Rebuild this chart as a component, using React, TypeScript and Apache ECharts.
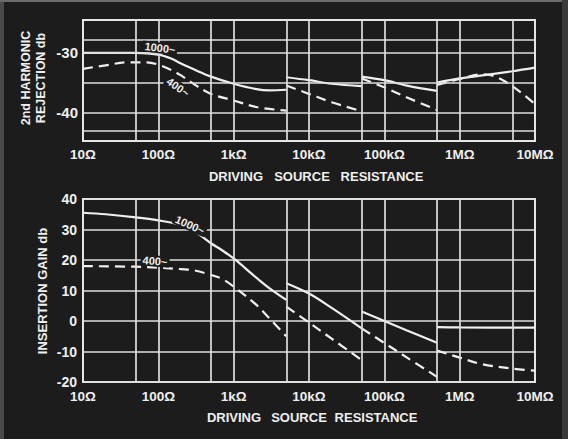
import React, { useEffect, useRef } from "react";
import * as echarts from "echarts";

// ---- tick labels / grid positions ----
const xTickLabels = ["10Ω", "100Ω", "1kΩ", "10kΩ", "100kΩ", "1MΩ", "10MΩ"];
const xGridLines = [50, 100, 500, 1000, 5000, 1e4, 5e4, 1e5, 5e5, 1e6, 5e6];
const topGridY = [-27.8, -30, -35, -40, -43];
const topYTicks = [-30, -40];

// ---- 2nd harmonic rejection (db) ----
const topSolid1 = [[10, -30.0], [20, -30.0], [50, -30.0], [100, -30.3], [150, -31.0], [200, -31.8], [300, -32.8], [500, -34.0], [1000, -35.2], [2000, -36.1], [3000, -36.3], [5000, -36.2]];
const topSolid2 = [[5000, -34.1], [10000, -34.6], [20000, -35.2], [50000, -35.6]];
const topSolid3 = [[50000, -34.0], [100000, -34.6], [200000, -35.5], [500000, -36.4]];
const topSolid4 = [[500000, -35.0], [1e6, -34.3], [2e6, -33.8], [5e6, -33.1], [1e7, -32.5]];

const topDash1 = [[10, -32.7], [20, -32.1], [40, -31.6], [70, -31.6], [100, -32.0], [150, -32.9], [200, -33.8], [300, -35.3], [500, -36.9], [1000, -38.0], [2000, -39.1], [5000, -39.7]];
const topDash2 = [[5000, -35.5], [10000, -36.9], [20000, -38.3], [50000, -39.8]];
const topDash3 = [[50000, -34.3], [100000, -35.8], [200000, -37.5], [500000, -39.6]];
const topDash4 = [[500000, -35.4], [1e6, -34.4], [2e6, -33.6], [3e6, -34.0], [5e6, -35.6], [1e7, -38.6]];

// ---- insertion gain (db) ----
const botSolid1 = [[10, 35.5], [20, 35.0], [50, 34.0], [100, 33.0], [200, 31.5], [300, 29.5], [500, 25.5], [700, 23.2], [1000, 20.5], [2000, 14.2], [3000, 10.7], [5000, 6.9]];
const botSolid2 = [[5000, 12.4], [10000, 9.0], [20000, 4.3], [50000, -2.4]];
const botSolid3 = [[50000, 3.1], [100000, 0.0], [200000, -3.1], [500000, -7.1]];
const botSolid4 = [[500000, -2.0], [1e6, -2.1], [1e7, -2.2]];

const botDash1 = [[10, 18.0], [50, 17.8], [100, 17.5], [200, 17.0], [300, 16.6], [500, 15.1], [700, 13.8], [1000, 11.3], [2000, 5.3], [3000, 0.8], [5000, -5.0]];
const botDash2 = [[5000, 4.7], [10000, -0.5], [20000, -5.8], [50000, -12.8]];
const botDash3 = [[50000, -2.4], [100000, -7.2], [200000, -12.0], [500000, -18.3]];
const botDash4 = [[500000, -9.7], [1e6, -12.0], [2e6, -14.2], [5e6, -15.6], [1e7, -16.3]];

const BG = "#1c1c1c";
const FG = "#efefef";
const GRIDC = "#dedede";
const FONT = "'Liberation Sans', Arial, sans-serif";

export default function App() {
  const ref = useRef<HTMLDivElement>(null);

  useEffect(() => {
    if (!ref.current) return;
    const chart = echarts.init(ref.current, undefined, { renderer: "svg" });

    const seg = (data: number[][], idx: number, dashed: boolean, smooth = 0.35) => ({
      type: "line",
      xAxisIndex: idx,
      yAxisIndex: idx,
      data,
      symbol: "none",
      showSymbol: false,
      smooth,
      silent: true,
      emphasis: { disabled: true },
      z: 3,
      lineStyle: { color: FG, width: 2.2, type: dashed ? [10, 6] : "solid" },
    });

    const gridLines = (idx: number, ys: number[]) => ({
      type: "line",
      xAxisIndex: idx,
      yAxisIndex: idx,
      data: [[10, -60]],
      symbol: "none",
      silent: true,
      z: 1,
      lineStyle: { width: 0 },
      markLine: {
        silent: true,
        symbol: ["none", "none"],
        label: { show: false },
        animation: false,
        lineStyle: { color: GRIDC, width: 1.7, type: "solid" },
        data: [
          ...xGridLines.map((v) => ({ xAxis: v })),
          ...ys.map((v) => ({ yAxis: v })),
        ],
      },
    });

    const xAxisBase = (idx: number, margin: number) => ({
      type: "log",
      logBase: 10,
      gridIndex: idx,
      min: 10,
      max: 1e7,
      axisLine: { show: false },
      axisTick: { show: false },
      splitLine: { show: false },
      axisLabel: {
        show: true,
        color: FG,
        fontFamily: FONT,
        fontWeight: "bold",
        fontSize: 13.5,
        margin,
        showMinLabel: true,
        showMaxLabel: true,
        formatter: (v: number) => xTickLabels[Math.round(Math.log10(v)) - 1] ?? "",
      },
    });

    const txt = (text: string, x: number, y: number, size: number, rotation = 0, bg?: string) => ({
      type: "text",
      x,
      y,
      rotation,
      z: 10,
      style: {
        text,
        fill: FG,
        font: `bold ${size}px ${FONT}`,
        align: "center",
        verticalAlign: "middle",
        backgroundColor: bg,
        padding: bg ? [0, 2] : 0,
      },
    });

    const option: any = {
      animation: false,
      backgroundColor: BG,
      grid: [
        { left: 83, top: 20, width: 452, height: 121, show: true, borderColor: "#e6e6e6", borderWidth: 2, backgroundColor: "transparent" },
        { left: 83, top: 199, width: 452, height: 183, show: true, borderColor: "#e6e6e6", borderWidth: 2, backgroundColor: "transparent" },
      ],
      xAxis: [xAxisBase(0, 6), xAxisBase(1, 7)],
      yAxis: [
        {
          type: "value",
          gridIndex: 0,
          min: -44.8,
          max: -24.5,
          axisLine: { show: false },
          axisTick: { show: false },
          splitLine: { show: false },
          axisLabel: {
            customValues: topYTicks,
            color: FG,
            fontFamily: FONT,
            fontWeight: "bold",
            fontSize: 15,
            margin: 5,
            formatter: (v: number) => String(v),
          },
        },
        {
          type: "value",
          gridIndex: 1,
          min: -20,
          max: 40,
          interval: 10,
          axisLine: { show: false },
          axisTick: { show: false },
          splitLine: { show: true, lineStyle: { color: GRIDC, width: 1.7 } },
          axisLabel: {
            color: FG,
            fontFamily: FONT,
            fontWeight: "bold",
            fontSize: 14,
            margin: 6,
          },
        },
      ],
      series: [
        gridLines(0, topGridY),
        gridLines(1, []),
        seg(topSolid1, 0, false),
        seg(topSolid2, 0, false),
        seg(topSolid3, 0, false),
        seg(topSolid4, 0, false),
        seg(topDash1, 0, true),
        seg(topDash2, 0, true),
        seg(topDash3, 0, true),
        seg(topDash4, 0, true),
        seg(botSolid1, 1, false),
        seg(botSolid2, 1, false),
        seg(botSolid3, 1, false),
        seg(botSolid4, 1, false),
        seg(botDash1, 1, true),
        seg(botDash2, 1, true),
        seg(botDash3, 1, true),
        seg(botDash4, 1, true),
      ],
      graphic: [
        { type: "rect", shape: { x: 0, y: 0, width: 4, height: 439 }, style: { fill: "#4a4a4a" }, z: 0 },
        { type: "rect", shape: { x: 0, y: 0, width: 568, height: 2 }, style: { fill: "#6a6a6a" }, z: 0 },
        { type: "rect", shape: { x: 562, y: 0, width: 6, height: 439 }, style: { fill: "#3a3a3a" }, z: 0 },
        txt("2nd HARMONIC", 26, 78, 12.5, Math.PI / 2),
        txt("REJECTION db", 41, 78, 12.5, Math.PI / 2),
        txt("INSERTION GAIN db", 42, 291, 13, Math.PI / 2),
        txt("DRIVING", 236, 176.5, 13),
        txt("SOURCE", 302, 176.5, 13),
        txt("RESISTANCE", 382, 176.5, 13),
        txt("DRIVING", 234, 417, 13),
        txt("SOURCE", 299, 417, 13),
        txt("RESISTANCE", 376, 417, 13),
        txt("1000~", 160, 48, 11, -0.12, BG),
        txt("400~", 178, 87, 11, -0.6, BG),
        txt("1000~", 190, 225, 11, -0.42, BG),
        txt("400~", 155, 261, 11, -0.08, BG),
      ],
    };

    chart.setOption(option);
    return () => chart.dispose();
  }, []);

  return (
    <div
      ref={ref}
      style={{ position: "fixed", left: 0, top: 0, width: 568, height: 439, background: BG }}
    />
  );
}
